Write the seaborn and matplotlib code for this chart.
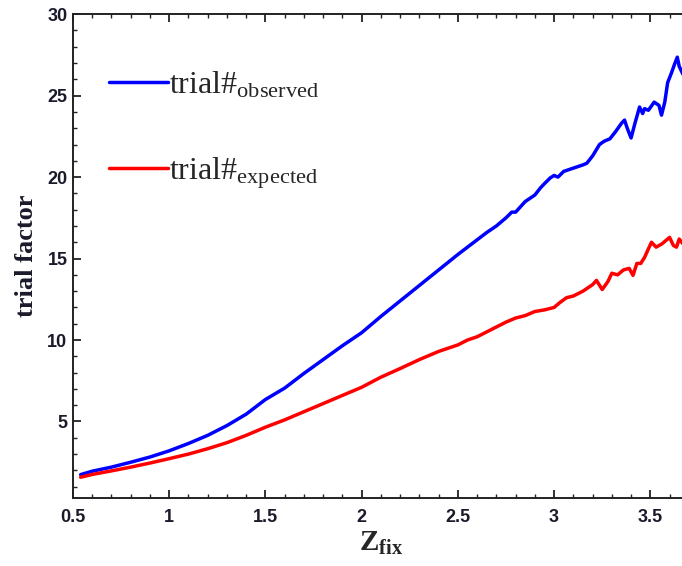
import numpy as np
import pandas as pd
import matplotlib
matplotlib.use("Agg")
import matplotlib.pyplot as plt
from matplotlib.ticker import MultipleLocator
import seaborn as sns

# Data
z_obs = [0.54, 0.6, 0.7, 0.8, 0.9, 1.0, 1.1, 1.2, 1.3, 1.4, 1.5, 1.6, 1.7, 1.8, 1.9,
         2.0, 2.1, 2.2, 2.3, 2.4, 2.5, 2.55, 2.6, 2.65, 2.7, 2.75, 2.78, 2.8, 2.85,
         2.9, 2.93, 2.95, 2.98, 3.0, 3.02, 3.05, 3.1, 3.15, 3.17, 3.2, 3.236, 3.26,
         3.29, 3.32, 3.35, 3.366, 3.38, 3.4, 3.42, 3.444, 3.46, 3.47, 3.49, 3.52,
         3.545, 3.558, 3.575, 3.59, 3.61, 3.625, 3.64, 3.65, 3.67]
trial_obs = [1.74, 1.95, 2.2, 2.5, 2.82, 3.2, 3.65, 4.15, 4.75, 5.45, 6.35, 7.05, 7.95,
             8.8, 9.65, 10.45, 11.45, 12.4, 13.35, 14.3, 15.25, 15.7, 16.15, 16.6, 17.0,
             17.5, 17.85, 17.85, 18.5, 18.9, 19.35, 19.6, 19.95, 20.1, 20.0, 20.35,
             20.55, 20.75, 20.85, 21.3, 22.0, 22.2, 22.35, 22.8, 23.3, 23.5, 23.0, 22.4,
             23.3, 24.3, 23.9, 24.2, 24.1, 24.6, 24.4, 23.8, 24.6, 25.8, 26.4, 26.9,
             27.36, 26.8, 26.3]

z_exp = [0.54, 0.6, 0.7, 0.8, 0.9, 1.0, 1.1, 1.2, 1.3, 1.4, 1.5, 1.6, 1.7, 1.8, 1.9,
         2.0, 2.1, 2.2, 2.3, 2.4, 2.5, 2.55, 2.6, 2.65, 2.7, 2.75, 2.8, 2.85, 2.9,
         2.95, 3.0, 3.03, 3.065, 3.1, 3.15, 3.2, 3.22, 3.25, 3.28, 3.3, 3.33, 3.36,
         3.39, 3.41, 3.43, 3.45, 3.47, 3.49, 3.506, 3.53, 3.56, 3.58, 3.6, 3.62,
         3.636, 3.65, 3.67]
trial_exp = [1.58, 1.75, 1.97, 2.2, 2.45, 2.72, 3.0, 3.33, 3.7, 4.15, 4.65, 5.1, 5.6,
             6.1, 6.6, 7.1, 7.72, 8.25, 8.8, 9.3, 9.7, 10.0, 10.2, 10.5, 10.8, 11.1,
             11.35, 11.5, 11.75, 11.85, 12.0, 12.3, 12.6, 12.7, 13.0, 13.4, 13.66, 13.1,
             13.6, 14.1, 14.0, 14.3, 14.4, 13.97, 14.7, 14.7, 15.07, 15.6, 16.0, 15.7,
             15.9, 16.1, 16.3, 15.8, 15.7, 16.2, 15.9]

x_ticks = [0.5, 1, 1.5, 2, 2.5, 3, 3.5]
x_tick_labels = ["0.5", "1", "1.5", "2", "2.5", "3", "3.5"]
y_ticks = [5, 10, 15, 20, 25, 30]

sns.set_style("ticks")
plt.rcParams["mathtext.fontset"] = "custom"
plt.rcParams["mathtext.rm"] = "Liberation Serif"
plt.rcParams["mathtext.bf"] = "Liberation Serif:bold"
plt.rcParams["mathtext.it"] = "Liberation Serif:italic"

fig = plt.figure(figsize=(6.82, 5.66), dpi=100)
ax = fig.add_axes([0.107, 0.120, 0.903, 0.855])

sns.lineplot(x=z_obs, y=trial_obs, color="#0000ff", lw=2.5, sort=False,
             label=r"trial#$_{\mathrm{observed}}$", ax=ax)
sns.lineplot(x=z_exp, y=trial_exp, color="#ff0000", lw=2.5, sort=False,
             label=r"trial#$_{\mathrm{expected}}$", ax=ax)

ax.set_xlim(0.5, 3.7)
ax.set_ylim(0.3, 30)
ax.set_xticks(x_ticks)
ax.set_xticklabels(x_tick_labels)
ax.set_yticks(y_ticks)
ax.xaxis.set_minor_locator(MultipleLocator(0.1))
ax.yaxis.set_minor_locator(MultipleLocator(1))

for s in ax.spines.values():
    s.set_linewidth(1.4)
    s.set_color("#222222")
ax.tick_params(which="both", direction="in", top=True, right=False, color="#222222")
ax.tick_params(which="major", length=6, width=1.3)
ax.tick_params(which="minor", length=3, width=1.0)
ax.tick_params(axis="x", pad=8)
ax.tick_params(axis="y", pad=4)
for lab in ax.get_xticklabels() + ax.get_yticklabels():
    lab.set_fontfamily("Liberation Sans")
    lab.set_fontweight("bold")
    lab.set_fontsize(13)
    lab.set_color("#1a1a2a")

ax.set_xlabel(r"$\mathbf{Z}_{\mathbf{fix}}$", fontsize=21, labelpad=2)
ax.set_ylabel("trial factor", fontsize=19, fontfamily="Liberation Serif",
              fontweight="bold", labelpad=7, color="#1a1a2a")

leg = ax.legend(loc="upper left", bbox_to_anchor=(0.037, 0.912), frameon=False,
                prop={"family": "Liberation Serif", "size": 23},
                handlelength=1.85, handletextpad=0.05, labelspacing=1.72,
                borderaxespad=0.0)

fig.savefig("out.png", dpi=100)
